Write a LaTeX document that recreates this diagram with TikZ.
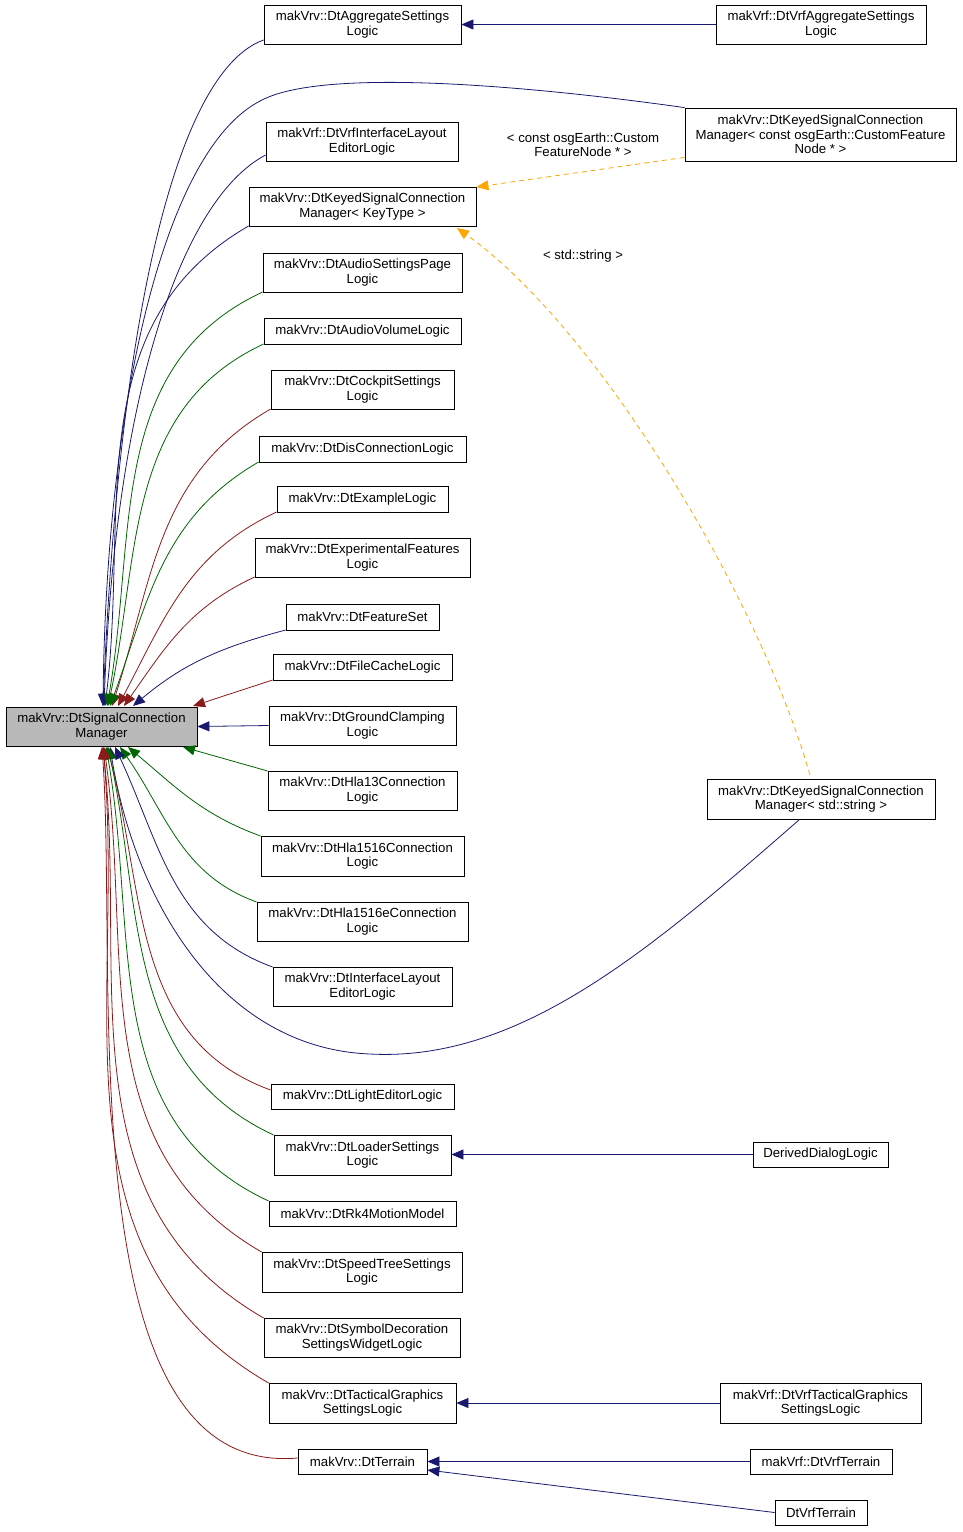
\documentclass[tikz,border=0pt]{standalone}
\usepackage{fontspec}
\setmainfont{Liberation Sans}
\usetikzlibrary{arrows.meta}
\definecolor{nv}{RGB}{25,25,112}
\definecolor{gr}{RGB}{0,100,0}
\definecolor{rd}{RGB}{139,26,26}
\definecolor{og}{RGB}{255,165,0}
\tikzset{
 box/.style={draw,thick,inner sep=0pt,align=center,font=\fontsize{13.2}{14.5}\selectfont},
 e/.style={-{Triangle[length=12pt,width=10pt]},line width=0.8pt},
 nvv/.style={e,nv},
 grr/.style={e,gr},
 rdd/.style={e,rd},
 tpl/.style={e,og,dashed,dash pattern=on 5pt off 4pt},
 lbl/.style={font=\fontsize{13.2}{14.5}\selectfont,align=center}
}
\newcommand\bx[6]{\node[box,minimum width={(#4-#2)*1pt},minimum height={(#5-#3)*1pt}] (#1) at ({(#2+#4)/2},{(#3+#5)/2}) {#6};}
\begin{document}
\begin{tikzpicture}[x=1pt,y=-1pt]
\useasboundingbox (0,0) rectangle (963,1532);
\node[box,fill=gray!55,minimum width=191pt,minimum height=39pt] (base) at (101.5,726.5) {makVrv::DtSignalConnection\\Manager};
\bx{agg}{264}{5}{461}{44}{makVrv::DtAggregateSettings\\Logic}
\bx{vagg}{716}{5}{926}{44}{makVrf::DtVrfAggregateSettings\\Logic}
\bx{kc}{685}{108}{956}{161}{makVrv::DtKeyedSignalConnection\\Manager< const osgEarth::CustomFeature\\Node * >}
\bx{vil}{266}{122}{458}{161}{makVrf::DtVrfInterfaceLayout\\EditorLogic}
\bx{kkt}{249}{187}{476}{226}{makVrv::DtKeyedSignalConnection\\Manager< KeyType >}
\bx{asp}{263}{253}{462}{292}{makVrv::DtAudioSettingsPage\\Logic}
\bx{avl}{264}{318}{461}{344}{makVrv::DtAudioVolumeLogic}
\bx{cps}{271}{370}{454}{409}{makVrv::DtCockpitSettings\\Logic}
\bx{dis}{259}{436}{466}{462}{makVrv::DtDisConnectionLogic}
\bx{exl}{277}{486}{448}{512}{makVrv::DtExampleLogic}
\bx{exf}{255}{538}{470}{577}{makVrv::DtExperimentalFeatures\\Logic}
\bx{fs}{286}{604}{439}{630}{makVrv::DtFeatureSet}
\bx{fc}{273}{654}{452}{680}{makVrv::DtFileCacheLogic}
\bx{gc}{269}{706}{456}{745}{makVrv::DtGroundClamping\\Logic}
\bx{h13}{268}{771}{457}{810}{makVrv::DtHla13Connection\\Logic}
\bx{h15}{261}{836}{464}{876}{makVrv::DtHla1516Connection\\Logic}
\bx{h15e}{257}{902}{468}{941}{makVrv::DtHla1516eConnection\\Logic}
\bx{ile}{273}{967}{452}{1006}{makVrv::DtInterfaceLayout\\EditorLogic}
\bx{ks}{707}{779}{935}{819}{makVrv::DtKeyedSignalConnection\\Manager< std::string >}
\bx{le}{271}{1084}{454}{1109}{makVrv::DtLightEditorLogic}
\bx{ld}{274}{1135}{451}{1175}{makVrv::DtLoaderSettings\\Logic}
\bx{dd}{753}{1142}{888}{1167}{DerivedDialogLogic}
\bx{rk}{269}{1201}{456}{1226}{makVrv::DtRk4MotionModel}
\bx{st}{262}{1252}{462}{1292}{makVrv::DtSpeedTreeSettings\\Logic}
\bx{sd}{264}{1318}{460}{1357}{makVrv::DtSymbolDecoration\\SettingsWidgetLogic}
\bx{tg}{269}{1383}{456}{1423}{makVrv::DtTacticalGraphics\\SettingsLogic}
\bx{vtg}{720}{1383}{921}{1423}{makVrf::DtVrfTacticalGraphics\\SettingsLogic}
\bx{tr}{298}{1449}{427}{1474}{makVrv::DtTerrain}
\bx{vtr}{750}{1449}{892}{1474}{makVrf::DtVrfTerrain}
\bx{dvt}{775}{1500}{867}{1525}{DtVrfTerrain}
% top children
\draw[nvv] (agg.west|-0,40) .. controls (180,70) and (120,300) .. (103,706);
\draw[nvv] (kc.north west) .. controls (560,90) and (330,65) .. (262,100) .. controls (160,150) and (106,420) .. (103,706);
\draw[nvv] (vil.west|-0,155) .. controls (180,200) and (115,400) .. (104,706);
\draw[nvv] (kkt.west|-0,226) to[out=210,in=83] (105,706);
\draw[grr] (asp.west|-0,292) to[out=205,in=80] (107,706);
\draw[grr] (avl.west|-0,344) to[out=205,in=78] (108,706);
\draw[rdd] (cps.west|-0,409) to[out=210,in=72] (112,706);
\draw[grr] (dis.west|-0,462) to[out=210,in=70] (110,706);
\draw[rdd] (exl.west|-0,512) to[out=205,in=62] (118,706);
\draw[rdd] (exf.west|-0,577) to[out=205,in=55] (124,706);
\draw[nvv] (fs.west|-0,630) to[out=195,in=40] (133,706);
\draw[rdd] (fc.west|-0,680) -- (193,706);
\draw[nvv] (gc.west) -- (base.east);
% bottom children
\draw[grr] (h13.west|-0,771) -- (183,747);
\draw[grr] (h15.west|-0,836) to[out=160,in=-40] (128,747);
\draw[grr] (h15e.west|-0,902) to[out=160,in=-55] (120,747);
\draw[nvv] (ile.west|-0,967) to[out=160,in=-65] (115,747);
\draw[nvv] (ks.south west) ++(93,0) .. controls (650,950) and (520,1062) .. (370,1054) .. controls (220,1048) and (135,900) .. (110,747);
\draw[rdd] (le.west|-0,1090) to[out=160,in=-75] (107,747);
\draw[grr] (ld.west|-0,1135) to[out=155,in=-78] (108,747);
\draw[grr] (rk.west|-0,1201) to[out=155,in=-80] (106,747);
\draw[rdd] (st.west|-0,1252) to[out=150,in=-82] (104,747);
\draw[rdd] (sd.west|-0,1318) to[out=150,in=-84] (103,747);
\draw[rdd] (tg.west|-0,1383) to[out=150,in=-85] (103,747);
\draw[rdd] (tr.west|-0,1458) to[out=185,in=-86,looseness=0.8] (102,747);
% other
\draw[nvv] (vagg.west) -- (agg.east);
\draw[nvv] (dd.west) -- (ld.east|-dd.west);
\draw[nvv] (vtg.west) -- (tg.east);
\draw[nvv] (vtr.west) -- (tr.east|-vtr.west);
\draw[nvv] (dvt.west) -- (tr.east|-0,1470);
\draw[tpl] (kc.south west)++(0,-4) -- (kkt.east|-0,187);
\draw[tpl] (810,775) .. controls (760,600) and (600,330) .. (457,228);
\node[lbl] (l1) at (583,145) {< const osgEarth::Custom\\FeatureNode * >};
\node[lbl] (l2) at (583,256) {< std::string >};
\end{tikzpicture}
\end{document}
